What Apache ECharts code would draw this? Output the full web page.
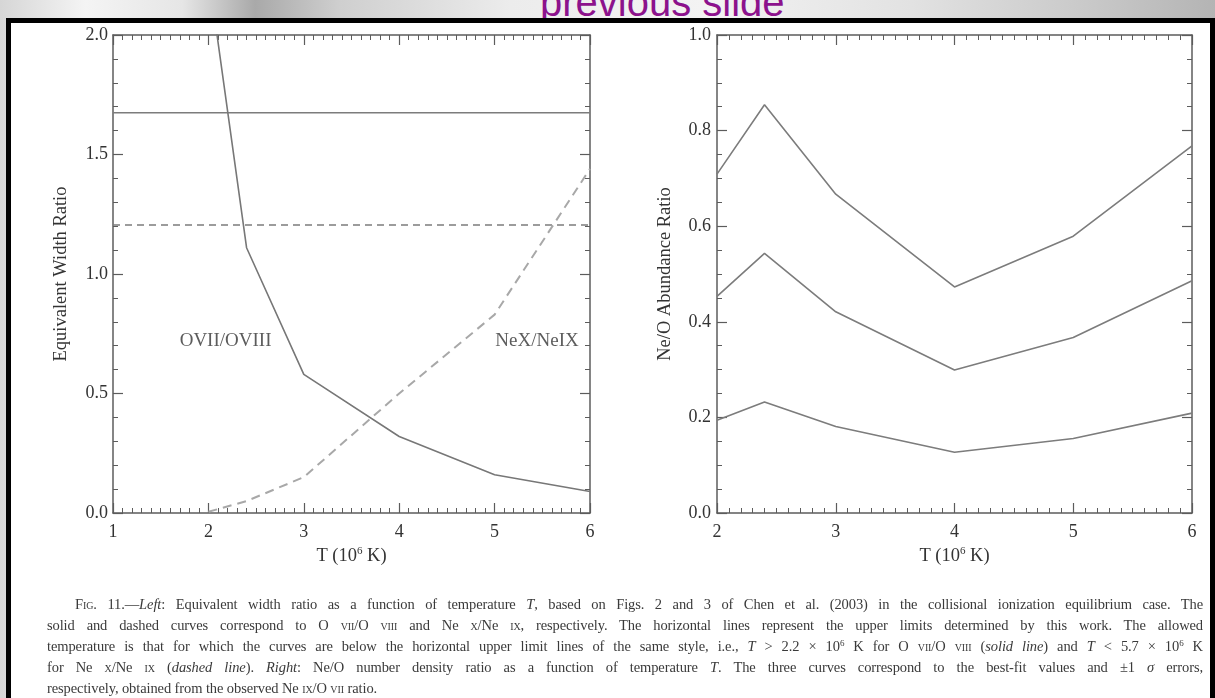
<!DOCTYPE html>
<html>
<head>
<meta charset="utf-8">
<title>Fig. 11</title>
<script src="https://cdn.jsdelivr.net/npm/echarts@6/dist/echarts.min.js"></script>
<style>
  html, body { margin: 0; padding: 0; width: 1215px; height: 698px; overflow: hidden; }
  body {
    position: relative;
    background: linear-gradient(to right, #d6d6d6 0%, #f4f4f4 7%, #e6e6e6 15%, #a9a9a9 21%, #cfcfcf 28%, #ececec 42%, #f3f3f3 58%, #e2e2e2 75%, #c8c8c8 90%, #b4b4b4 100%);
  }
  #slideTitle {
    position: absolute; left: 540px; top: -20px;
    font: 40px "Liberation Sans", Arial, sans-serif; color: #8c128c; white-space: nowrap;
  }
  #frame {
    position: absolute; left: 6px; top: 18px; width: 1209px; height: 700px;
    box-sizing: border-box; border: 5px solid #000; border-bottom: none; background: #fff;
  }
  #chart { position: absolute; left: 0; top: 0; width: 1215px; height: 698px; }
  #caption {
    position: absolute; left: 47px; width: 1156px; top: 594px;
    font: 14.5px/21px "Liberation Serif", "Times New Roman", serif; color: #3a3a3a;
    letter-spacing: -0.1px;
  }
  #caption .ln { height: 21px; text-align: justify; text-align-last: justify; white-space: nowrap; overflow: visible; }
  #caption .ln.first { padding-left: 28px; }
  #caption .ln.last { text-align: left; text-align-last: left; }
  .sc { font-variant: small-caps; }
  .sup { font-size: 9px; position: relative; top: -5px; line-height: 0; }
</style>
</head>
<body>
<div id="slideTitle">previous slide</div>
<div id="frame"></div>
<div id="chart"></div>
<div id="caption">
  <div class="ln first">F<span class="sc">ig</span>. 11.—<i>Left</i>: Equivalent width ratio as a function of temperature <i>T</i>, based on Figs. 2 and 3 of Chen et al. (2003) in the collisional ionization equilibrium case. The</div>
  <div class="ln">solid and dashed curves correspond to O <span class="sc">vii</span>/O <span class="sc">viii</span> and Ne <span class="sc">x</span>/Ne <span class="sc">ix</span>, respectively. The horizontal lines represent the upper limits determined by this work. The allowed</div>
  <div class="ln">temperature is that for which the curves are below the horizontal upper limit lines of the same style, i.e., <i>T</i> &gt; 2.2 × 10<span class="sup">6</span> K for O <span class="sc">vii</span>/O <span class="sc">viii</span> (<i>solid line</i>) and <i>T</i> &lt; 5.7 × 10<span class="sup">6</span> K</div>
  <div class="ln">for Ne <span class="sc">x</span>/Ne <span class="sc">ix</span> (<i>dashed line</i>). <i>Right</i>: Ne/O number density ratio as a function of temperature <i>T</i>. The three curves correspond to the best-fit values and ±1 <i>σ</i> errors,</div>
  <div class="ln last">respectively, obtained from the observed Ne <span class="sc">ix</span>/O <span class="sc">vii</span> ratio.</div>
</div>
<script>
// Temperature grid (10^6 K) shared by all model curves
const temperature = [2.0, 2.4, 3, 4, 5, 6];

// Left panel: equivalent width ratios
const ovRatio = [2.26, 1.11, 0.58, 0.32, 0.16, 0.09];    // O VII / O VIII (solid)
const neRatio = [0.005, 0.05, 0.15, 0.50, 0.83, 1.44];   // Ne X / Ne IX (dashed)
const ovUpperLimit = 1.675;
const neUpperLimit = 1.205;

// Right panel: Ne/O abundance ratio, best fit and ±1 sigma
const neoUpper = [0.709, 0.854, 0.667, 0.473, 0.579, 0.768];
const neoBest  = [0.453, 0.543, 0.421, 0.299, 0.367, 0.486];
const neoLower = [0.194, 0.232, 0.181, 0.127, 0.156, 0.209];

// Axis ranges: [min, max, major step]
const leftX  = [1, 6, 1];
const leftY  = [0, 2, 0.5];
const rightX = [2, 6, 1];
const rightY = [0, 1, 0.2];

const labelOV = 'OVII/OVIII';
const labelNe = 'NeX/NeIX';
const xTitle = 'T (10{sup|6} K)';
const yTitleLeft = 'Equivalent Width Ratio';
const yTitleRight = 'Ne/O Abundance Ratio';

const SERIF = '"Liberation Serif", "Times New Roman", serif';
const AXIS = '#5c5c5c';
const TEXT = '#333333';

const pairs = (xs, ys) => xs.map((x, i) => [x, ys[i]]);

function axis(o) {
  return {
    type: 'value',
    gridIndex: o.grid,
    position: o.position,
    min: o.range[0], max: o.range[1], interval: o.range[2],
    name: o.name || '',
    nameLocation: 'middle',
    nameGap: o.nameGap || 0,
    nameTextStyle: {
      fontFamily: SERIF, fontSize: 18.5, color: TEXT,
      rich: { sup: { fontFamily: SERIF, fontSize: 11, color: TEXT, padding: [0, 0, 10, 0] } }
    },
    axisLine: { show: true, onZero: false, lineStyle: { color: AXIS, width: 1.5 } },
    axisTick: { show: true, inside: true, length: 10, lineStyle: { color: AXIS, width: 1.2 } },
    minorTick: { show: true, splitNumber: o.minor, length: 5, lineStyle: { color: AXIS, width: 1 } },
    axisLabel: {
      show: !!o.labels, margin: o.margin || 8, showMinLabel: true, showMaxLabel: true,
      fontFamily: SERIF, fontSize: 18, color: TEXT,
      formatter: o.fmt
    },
    splitLine: { show: false },
    minorSplitLine: { show: false }
  };
}

const intFmt = v => String(Math.round(v));
const oneDec = v => v.toFixed(1);

const lineSeries = (name, xi, yi, data, color, width, type) => ({
  name, type: 'line', xAxisIndex: xi, yAxisIndex: yi, data,
  symbol: 'none', silent: true, clip: true,
  lineStyle: { color, width, type: type || 'solid' }
});

const option = {
  animation: false,
  grid: [
    { left: 113, top: 35, width: 477, height: 478 },
    { left: 717, top: 35, width: 475, height: 478 }
  ],
  xAxis: [
    axis({ grid: 0, position: 'bottom', range: leftX, minor: 10, labels: true, margin: 10, fmt: intFmt, name: xTitle, nameGap: 29 }),
    axis({ grid: 0, position: 'top', range: leftX, minor: 10 }),
    axis({ grid: 1, position: 'bottom', range: rightX, minor: 10, labels: true, margin: 10, fmt: intFmt, name: xTitle, nameGap: 29 }),
    axis({ grid: 1, position: 'top', range: rightX, minor: 10 })
  ],
  yAxis: [
    axis({ grid: 0, position: 'left', range: leftY, minor: 5, labels: true, margin: 5, fmt: oneDec, name: yTitleLeft, nameGap: 42 }),
    axis({ grid: 0, position: 'right', range: leftY, minor: 5 }),
    axis({ grid: 1, position: 'left', range: rightY, minor: 4, labels: true, margin: 6, fmt: oneDec, name: yTitleRight, nameGap: 42 }),
    axis({ grid: 1, position: 'right', range: rightY, minor: 4 })
  ],
  series: [
    lineSeries('ovLimit', 0, 0, [[leftX[0], ovUpperLimit], [leftX[1], ovUpperLimit]], '#7c7c7c', 1.4),
    lineSeries('neLimit', 0, 0, [[leftX[0], neUpperLimit], [leftX[1], neUpperLimit]], '#7c7c7c', 1.4, [7, 5]),
    lineSeries('ovRatio', 0, 0, pairs(temperature, ovRatio), '#777777', 1.6),
    lineSeries('neRatio', 0, 0, pairs(temperature, neRatio), '#a8a8a8', 2, [9, 6]),
    {
      type: 'scatter', xAxisIndex: 0, yAxisIndex: 0, silent: true,
      symbolSize: 1, itemStyle: { color: 'rgba(0,0,0,0)' },
      label: { show: true, position: 'inside', formatter: '{b}', fontFamily: SERIF, fontSize: 19, color: TEXT },
      data: [
        { name: labelOV, value: [2.18, 0.718] },
        { name: labelNe, value: [5.445, 0.718] }
      ]
    },
    lineSeries('neoUpper', 2, 2, pairs(temperature, neoUpper), '#7c7c7c', 1.6),
    lineSeries('neoBest', 2, 2, pairs(temperature, neoBest), '#7c7c7c', 1.6),
    lineSeries('neoLower', 2, 2, pairs(temperature, neoLower), '#7c7c7c', 1.6)
  ]
};

const chart = echarts.init(document.getElementById('chart'), null, { renderer: 'canvas' });
chart.setOption(option);
</script>
</body>
</html>
